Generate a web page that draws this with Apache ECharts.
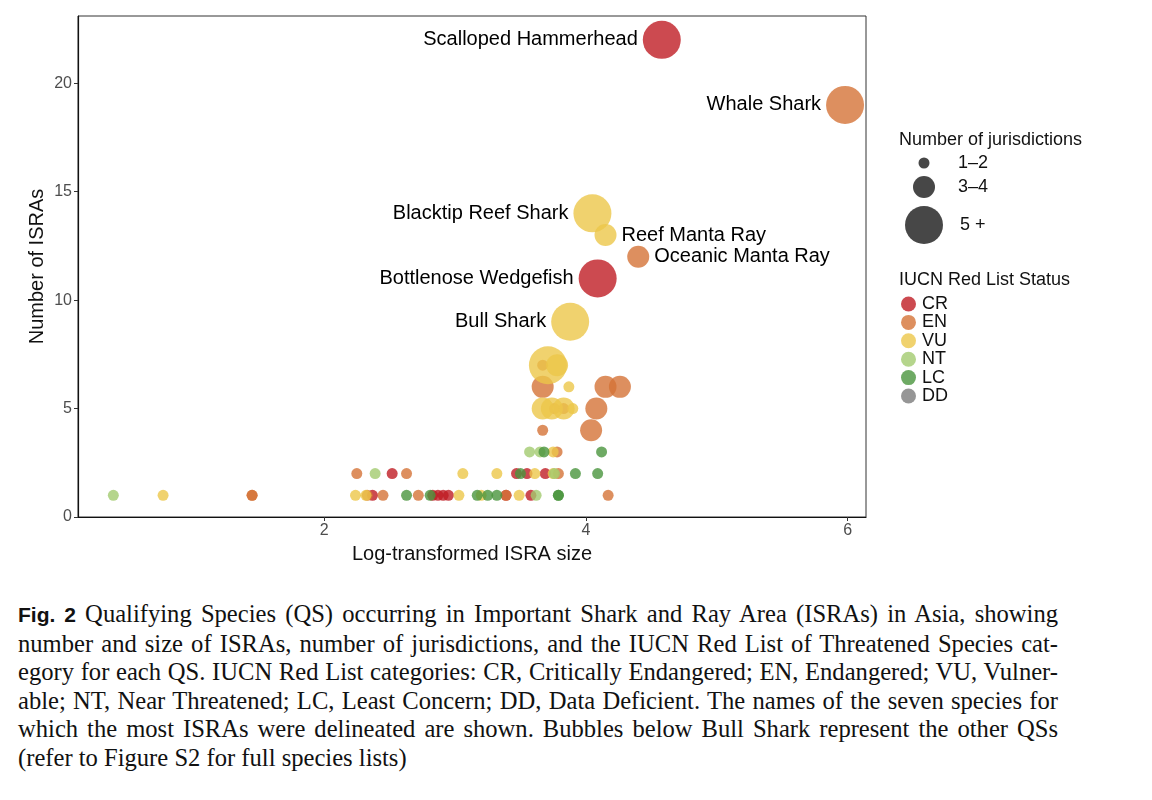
<!DOCTYPE html>
<html>
<head>
<meta charset="utf-8">
<script src="https://cdn.jsdelivr.net/npm/echarts@6/dist/echarts.min.js"></script>
<style>
  html, body { margin: 0; padding: 0; background: #fff; }
  #chart { position: absolute; left: 0; top: 0; width: 1152px; height: 580px; }
  #caption {
    position: absolute; left: 18px; top: 600px; width: 1040px;
    font-family: "Liberation Serif", "Times New Roman", serif;
    font-size: 24.6px; line-height: 28.6px; color: #111;
  }
  #caption .ln { text-align: justify; text-align-last: justify; white-space: nowrap; }
  #caption .last { text-align: left; text-align-last: left; }
  #caption b { font-family: "Liberation Sans", Arial, sans-serif; font-weight: bold; font-size: 21px; }
</style>
</head>
<body>
<div id="chart"></div>
<div id="caption">
  <div class="ln"><b>Fig. 2</b>&nbsp;Qualifying Species (QS) occurring in Important Shark and Ray Area (ISRAs) in Asia, showing</div>
  <div class="ln">number and size of ISRAs, number of jurisdictions, and the IUCN Red List of Threatened Species cat-</div>
  <div class="ln">egory for each QS. IUCN Red List categories: CR, Critically Endangered; EN, Endangered; VU, Vulner-</div>
  <div class="ln">able; NT, Near Threatened; LC, Least Concern; DD, Data Deficient. The names of the seven species for</div>
  <div class="ln">which the most ISRAs were delineated are shown. Bubbles below Bull Shark represent the other QSs</div>
  <div class="ln last">(refer to Figure S2 for full species lists)</div>
</div>
<script>
// IUCN categories and their colours
var statusNames = ["CR", "EN", "VU", "NT", "LC", "DD"];
var statusColors = ["#BF1D24", "#D57337", "#ECC74A", "#A3CB6F", "#4A953D", "#7C7C7C"];

// jurisdiction classes (1 = 1–2, 2 = 3–4, 3 = 5 +)
var jurLabels = ["1–2", "3–4", "5 +"];
var jurSymbol = [11, 22, 38];

// the seven named species
var namedSpecies = ["Scalloped Hammerhead", "Whale Shark", "Blacktip Reef Shark", "Reef Manta Ray",
                    "Oceanic Manta Ray", "Bottlenose Wedgefish", "Bull Shark"];
var namedLogSize = [4.58, 5.98, 4.05, 4.15, 4.40, 4.09, 3.88];
var namedCount   = [22, 19, 14, 13, 12, 11, 9];
var namedJur     = [3, 3, 3, 2, 2, 3, 3];
var namedStatus  = ["CR", "EN", "VU", "VU", "EN", "CR", "VU"];
var labelOnRight = ["Reef Manta Ray", "Oceanic Manta Ray"];

// all the other qualifying species
var otherLogSize = [3.71, 3.78, 3.67,
                    3.67, 3.87, 4.15, 4.26,
                    3.67, 3.74, 3.83, 3.76, 3.83, 3.90, 4.08,
                    3.67, 4.04,
                    3.57, 3.65, 3.68, 3.75, 3.78, 4.12,
                    2.25, 2.39, 2.52, 2.63, 3.06, 3.32, 3.47, 3.50, 3.55, 3.61, 3.69, 3.75, 3.76, 3.79, 3.92, 4.09,
                    0.39, 0.77, 1.45, 1.45, 2.24, 2.32, 2.33, 2.37, 2.45, 2.63, 2.72, 2.81, 2.83, 2.87, 2.91, 2.95,
                    3.03, 3.17, 3.20, 3.25, 3.32, 3.39, 3.39, 3.49, 3.58, 3.62, 3.79, 3.79, 4.17];
var otherCount   = [7, 7, 7,
                    6, 6, 6, 6,
                    5, 5, 5, 5, 5, 5, 5,
                    4, 4,
                    3, 3, 3, 3, 3, 3,
                    2, 2, 2, 2, 2, 2, 2, 2, 2, 2, 2, 2, 2, 2, 2, 2,
                    1, 1, 1, 1, 1, 1, 1, 1, 1, 1, 1, 1, 1, 1, 1, 1,
                    1, 1, 1, 1, 1, 1, 1, 1, 1, 1, 1, 1, 1];
var otherJur     = [3, 2, 1,
                    2, 1, 2, 2,
                    2, 2, 2, 1, 1, 1, 2,
                    1, 2,
                    1, 1, 1, 1, 1, 1,
                    1, 1, 1, 1, 1, 1, 1, 1, 1, 1, 1, 1, 1, 1, 1, 1,
                    1, 1, 1, 1, 1, 1, 1, 1, 1, 1, 1, 1, 1, 1, 1, 1,
                    1, 1, 1, 1, 1, 1, 1, 1, 1, 1, 1, 1, 1];
var otherStatus  = ["VU", "VU", "EN",
                    "EN", "VU", "EN", "EN",
                    "VU", "VU", "VU", "EN", "EN", "VU", "EN",
                    "EN", "EN",
                    "NT", "NT", "LC", "VU", "EN", "LC",
                    "EN", "NT", "CR", "EN", "VU", "VU", "CR", "LC", "CR", "VU", "CR", "VU", "NT", "EN", "LC", "LC",
                    "NT", "VU", "EN", "EN", "VU", "VU", "EN", "CR", "EN", "LC", "EN", "LC", "CR", "CR", "CR", "CR",
                    "VU", "LC", "VU", "LC", "LC", "CR", "EN", "VU", "CR", "NT", "LC", "LC", "EN"];

var yTicks = [0, 5, 10, 15, 20];
var xTicks = [2, 4, 6];

var FONT = "'Liberation Sans', Arial, sans-serif";

var chart = echarts.init(document.getElementById("chart"));

function seriesFor(status, idx) {
  var data = [];
  for (var i = 0; i < otherLogSize.length; i++) {
    if (otherStatus[i] !== status) continue;
    data.push({ value: [otherLogSize[i], otherCount[i], otherJur[i]] });
  }
  for (var j = 0; j < namedSpecies.length; j++) {
    if (namedStatus[j] !== status) continue;
    var right = labelOnRight.indexOf(namedSpecies[j]) >= 0;
    data.push({
      name: namedSpecies[j],
      value: [namedLogSize[j], namedCount[j], namedJur[j]],
      label: { show: true, position: right ? "right" : "left" }
    });
  }
  return {
    type: "scatter",
    name: status,
    data: data,
    symbolSize: function (v) { return jurSymbol[v[2] - 1]; },
    itemStyle: { color: statusColors[idx], opacity: 0.8 },
    label: {
      show: false,
      formatter: "{b}",
      distance: 5,
      color: "#000",
      opacity: 1,
      fontSize: 20,
      fontFamily: FONT
    },
    emphasis: { disabled: true }
  };
}

var series = statusNames.map(seriesFor);

// size legend (number of jurisdictions)
var sizeLegendY = [163, 187, 225];
var graphics = [
  { type: "text", left: 899, top: 131,
    style: { text: "Number of jurisdictions", fontSize: 18, fontFamily: FONT, fill: "#111" } },
  { type: "text", left: 899, top: 271,
    style: { text: "IUCN Red List Status", fontSize: 18, fontFamily: FONT, fill: "#111" } }
];
jurLabels.forEach(function (lab, i) {
  graphics.push({ type: "circle", shape: { cx: 924, cy: sizeLegendY[i], r: jurSymbol[i] / 2 },
                  style: { fill: "#333", opacity: 0.9 } });
  graphics.push({ type: "text", x: i === 2 ? 960 : 958, y: sizeLegendY[i],
                  style: { text: lab, fontSize: 18, fontFamily: FONT, fill: "#111", verticalAlign: "middle" } });
});

chart.setOption({
  animation: false,
  textStyle: { fontFamily: FONT },
  grid: { left: 78, top: 16, width: 788, height: 501, show: true, borderColor: "#333", borderWidth: 1 },
  xAxis: {
    type: "value",
    min: 0.12,
    max: 6.14,
    name: "Log-transformed ISRA size",
    nameLocation: "middle",
    nameGap: 27,
    nameTextStyle: { fontSize: 20, color: "#111", fontFamily: FONT },
    splitLine: { show: false },
    axisLine: { lineStyle: { color: "#111", width: 1.2 } },
    axisTick: { show: true, length: 4, lineStyle: { color: "#333" }, customValues: xTicks },
    axisLabel: { color: "#4d4d4d", fontSize: 16, margin: 6, customValues: xTicks }
  },
  yAxis: {
    type: "value",
    min: 0,
    max: 23.1,
    name: "Number of ISRAs",
    nameLocation: "middle",
    nameRotate: 90,
    nameGap: 31,
    nameMoveOverlap: false,
    nameTextStyle: { fontSize: 20, color: "#111", fontFamily: FONT },
    splitLine: { show: false },
    axisLine: { show: true, lineStyle: { color: "#111", width: 1.2 } },
    axisTick: { show: true, length: 4, lineStyle: { color: "#333" }, customValues: yTicks },
    axisLabel: { color: "#4d4d4d", fontSize: 16, margin: 6, customValues: yTicks }
  },
  legend: {
    data: statusNames,
    orient: "vertical",
    left: 901,
    top: 295,
    padding: 0,
    icon: "circle",
    itemWidth: 15,
    itemHeight: 15,
    itemGap: 0.4,
    selectedMode: false,
    textStyle: { fontSize: 18, lineHeight: 18, color: "#111", fontFamily: FONT, padding: [0, 0, 0, 1] }
  },
  graphic: graphics,
  series: series
});
</script>
</body>
</html>
